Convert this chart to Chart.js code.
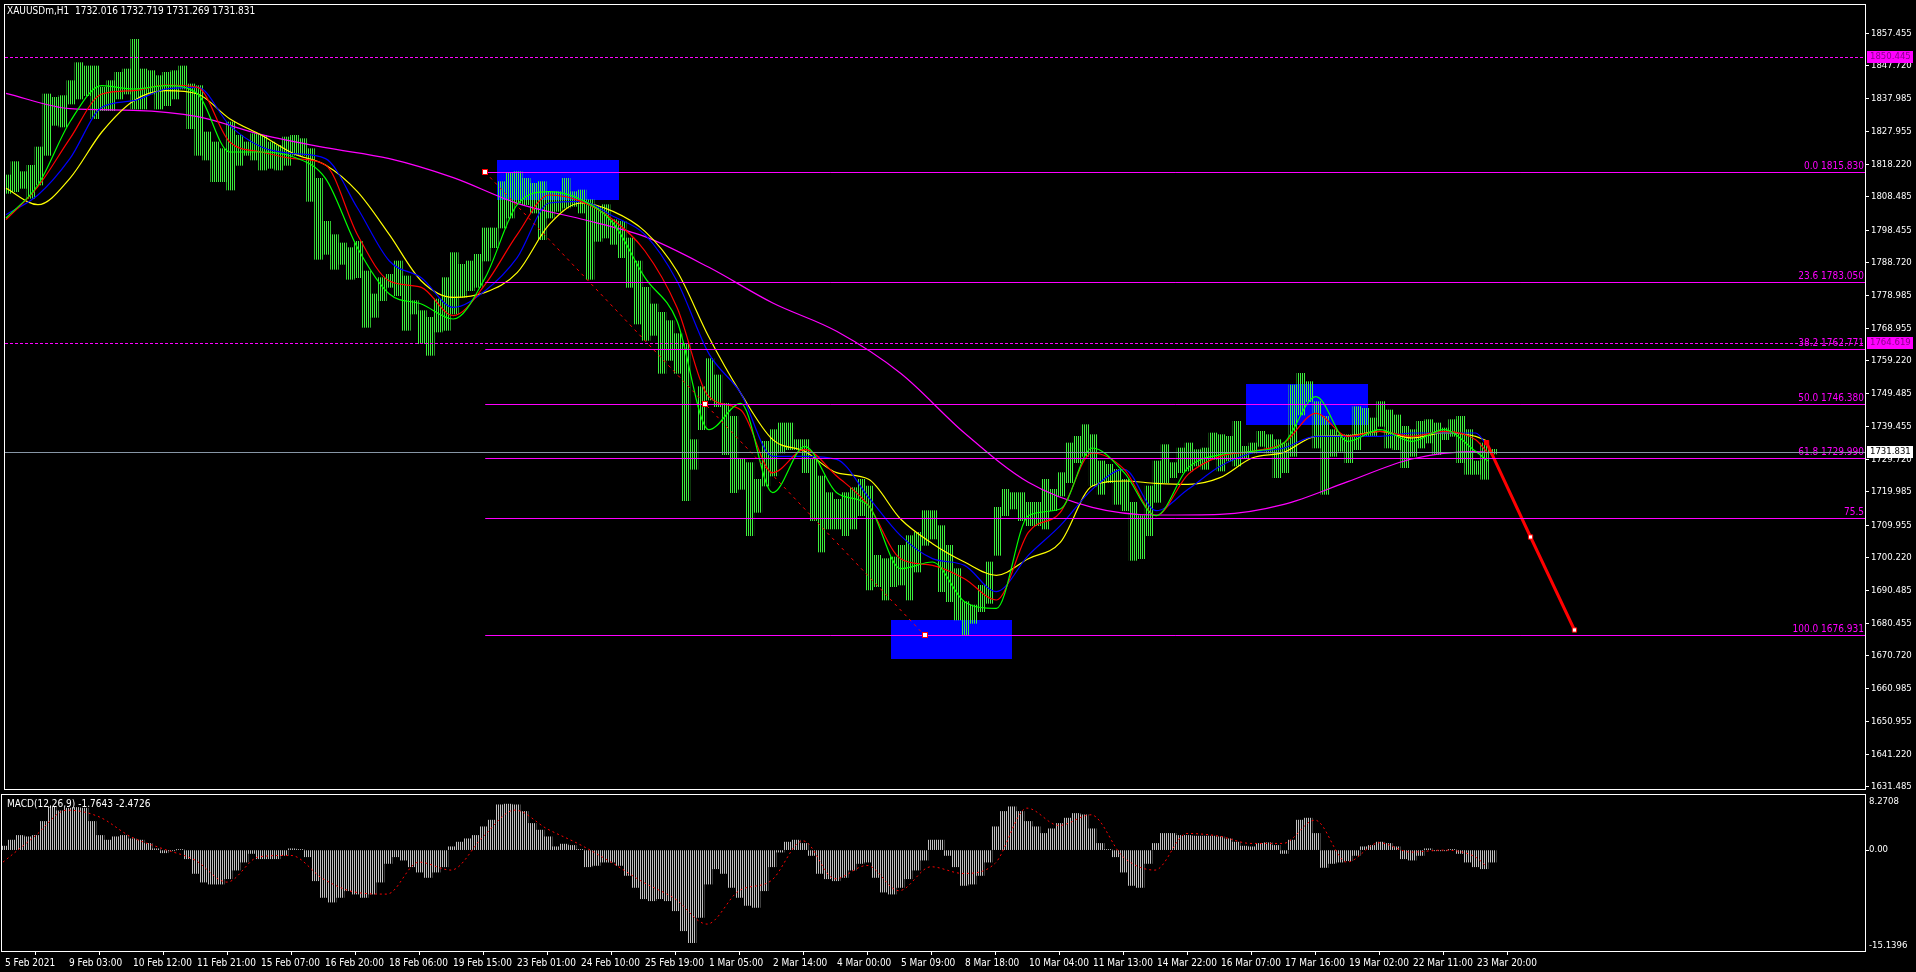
<!DOCTYPE html>
<html>
<head>
<meta charset="utf-8">
<title>XAUUSDm,H1</title>
<script src="https://cdn.jsdelivr.net/npm/chart.js@4.4.1/dist/chart.umd.min.js"></script>
<style>
    html, body { margin: 0; padding: 0; background: #000; overflow: hidden; }
    #wrap { position: relative; width: 1916px; height: 972px; }
    #priceBox { position: absolute; left: 0; top: 0; width: 1916px; height: 794px; }
    #macdBox { position: absolute; left: 0; top: 794px; width: 1916px; height: 178px; }
</style>
</head>
<body>
<div id="wrap">
    <div id="priceBox"><canvas id="priceChart"></canvas></div>
    <div id="macdBox"><canvas id="macdChart"></canvas></div>
</div>
<script>
// ---- data ----
// H1 bars, summarised per block of 4 bars (high / low of each block)
const BARS_PER_GROUP = 4;
const groupHigh = [
    1815.0, 1819.0, 1816.0, 1817.9, 1823.4, 1839.3, 1838.3, 1838.8, 1843.3, 1848.7,
    1847.7, 1847.7, 1841.3, 1843.3, 1845.8, 1846.8, 1855.7, 1846.8, 1846.3, 1844.8,
    1845.8, 1846.3, 1847.7, 1842.3, 1841.8, 1827.9, 1824.9, 1822.9, 1830.9, 1826.9,
    1824.9, 1827.4, 1826.9, 1824.9, 1823.9, 1826.4, 1826.9, 1825.9, 1822.9, 1814.0,
    1801.1, 1797.1, 1794.6, 1793.2, 1795.1, 1786.2, 1779.3, 1784.2, 1785.2, 1789.2,
    1784.7, 1777.3, 1774.3, 1772.3, 1777.8, 1784.2, 1791.7, 1788.2, 1789.2, 1791.2,
    1799.1, 1799.1, 1813.0, 1815.5, 1816.0, 1814.0, 1812.5, 1813.0, 1810.0, 1810.0,
    1814.0, 1810.0, 1810.5, 1807.6, 1805.6, 1806.1, 1801.6, 1801.1, 1796.1, 1789.2,
    1781.3, 1776.3, 1773.8, 1771.3, 1767.4, 1764.4, 1735.6, 1751.5, 1759.9, 1755.0,
    1746.5, 1742.6, 1729.7, 1728.7, 1723.7, 1735.1, 1738.6, 1740.6, 1740.6, 1735.6,
    1735.6, 1729.7, 1724.7, 1719.7, 1717.7, 1719.7, 1721.2, 1723.7, 1721.7, 1700.9,
    1699.9, 1700.4, 1703.9, 1706.8, 1707.8, 1714.3, 1714.3, 1709.8, 1703.9, 1696.9,
    1687.0, 1686.0, 1691.9, 1698.9, 1715.3, 1720.7, 1719.7, 1719.7, 1716.8, 1716.8,
    1723.7, 1720.7, 1725.7, 1734.6, 1736.6, 1740.1, 1737.1, 1729.2, 1728.2, 1726.7,
    1723.7, 1716.8, 1712.8, 1721.7, 1729.2, 1734.1, 1728.7, 1733.1, 1734.6, 1732.6,
    1733.1, 1737.6, 1737.1, 1736.6, 1741.1, 1733.6, 1734.6, 1738.1, 1737.1, 1735.6,
    1734.6, 1752.0, 1755.5, 1753.0, 1747.0, 1742.6, 1738.6, 1737.1, 1737.1, 1745.5,
    1745.0, 1742.1, 1747.0, 1744.5, 1743.0, 1739.6, 1738.6, 1741.1, 1741.6, 1740.6,
    1739.1, 1741.6, 1742.6, 1738.6, 1729.2, 1734.6, 1732.7
];
const groupLow = [
    1809.5, 1810.0, 1811.0, 1808.0, 1812.0, 1820.9, 1829.9, 1829.4, 1836.3, 1837.8,
    1838.8, 1831.9, 1834.3, 1834.3, 1837.8, 1839.3, 1834.8, 1834.8, 1839.3, 1834.8,
    1835.8, 1837.8, 1840.8, 1828.9, 1820.9, 1819.5, 1813.0, 1813.0, 1810.5, 1817.9,
    1820.9, 1819.5, 1816.5, 1817.0, 1816.5, 1817.9, 1820.9, 1820.9, 1807.1, 1789.7,
    1791.2, 1786.7, 1788.2, 1783.7, 1784.2, 1769.3, 1772.3, 1777.3, 1781.3, 1778.8,
    1768.4, 1773.3, 1764.4, 1760.9, 1767.9, 1768.4, 1773.3, 1778.3, 1780.3, 1781.3,
    1789.2, 1793.2, 1799.1, 1802.1, 1806.6, 1806.1, 1803.6, 1795.6, 1802.1, 1804.1,
    1805.1, 1805.6, 1803.6, 1783.7, 1795.1, 1796.1, 1794.2, 1790.2, 1781.3, 1770.3,
    1765.4, 1766.9, 1755.5, 1759.4, 1755.5, 1717.3, 1726.7, 1738.6, 1747.5, 1745.5,
    1731.1, 1719.7, 1720.7, 1706.8, 1713.8, 1721.7, 1724.7, 1731.6, 1732.6, 1732.6,
    1725.7, 1711.3, 1701.9, 1708.8, 1708.8, 1706.8, 1708.8, 1712.8, 1690.5, 1691.5,
    1687.5, 1691.5, 1692.0, 1687.5, 1695.9, 1703.9, 1705.8, 1690.0, 1687.0, 1681.5,
    1677.1, 1680.5, 1684.0, 1686.5, 1700.9, 1712.8, 1714.8, 1711.3, 1709.8, 1709.8,
    1708.8, 1714.3, 1718.7, 1722.7, 1728.7, 1730.6, 1721.7, 1719.2, 1722.7, 1716.2,
    1714.3, 1699.4, 1699.9, 1706.8, 1716.8, 1722.7, 1724.2, 1725.7, 1726.2, 1727.7,
    1726.7, 1729.7, 1726.2, 1729.2, 1727.7, 1730.1, 1731.6, 1733.6, 1731.6, 1724.2,
    1725.7, 1730.6, 1743.0, 1747.0, 1733.1, 1719.2, 1730.6, 1732.1, 1728.7, 1732.6,
    1736.6, 1736.6, 1739.6, 1733.1, 1732.6, 1727.2, 1730.6, 1733.1, 1734.6, 1731.1,
    1735.6, 1736.6, 1728.7, 1725.2, 1725.2, 1723.7, 1731.3
];

// moving averages, one reading every 16 bars (last value = last bar)
const LAST_BAR = 742;
const MA_STEP = 16;
const maGreen = [
    1802.1, 1812.0, 1830.9, 1841.8, 1840.8, 1841.8, 1839.3, 1821.9, 1821.9, 1820.4, 1814.0, 1793.2,
    1779.3, 1776.3, 1771.8, 1784.2, 1806.1, 1810.0, 1807.6, 1800.6, 1784.2, 1771.3, 1738.6, 1746.5,
    1719.7, 1733.6, 1719.7, 1715.8, 1696.9, 1698.9, 1687.0, 1685.0, 1712.8, 1714.8, 1733.1, 1725.7,
    1712.8, 1727.2, 1731.1, 1732.1, 1734.6, 1748.5, 1735.1, 1738.6, 1735.1, 1738.6, 1732.1, 1729.2
];
const maRed = [
    1801.6, 1811.5, 1825.9, 1839.3, 1840.3, 1842.0, 1841.3, 1824.9, 1821.9, 1819.9, 1818.0, 1797.1,
    1783.2, 1781.3, 1772.8, 1782.2, 1797.1, 1809.0, 1807.1, 1801.6, 1792.2, 1775.3, 1748.5, 1744.5,
    1725.7, 1732.6, 1724.7, 1715.8, 1699.9, 1697.9, 1693.9, 1687.5, 1707.8, 1713.8, 1731.6, 1726.7,
    1712.8, 1725.2, 1730.6, 1732.1, 1734.6, 1743.5, 1736.6, 1738.1, 1736.6, 1738.1, 1735.6, 1731.6
];
const maBlue = [
    1803.1, 1809.0, 1819.9, 1835.3, 1837.3, 1840.8, 1841.3, 1829.9, 1823.4, 1821.4, 1819.9, 1805.1,
    1789.2, 1784.2, 1775.3, 1780.3, 1790.2, 1806.6, 1807.1, 1802.6, 1797.1, 1783.2, 1761.4, 1749.5,
    1730.6, 1730.6, 1729.7, 1718.3, 1706.8, 1699.9, 1697.9, 1690.0, 1700.9, 1709.8, 1720.7, 1726.7,
    1714.3, 1720.7, 1727.6, 1731.6, 1733.1, 1736.6, 1736.6, 1736.6, 1737.6, 1737.6, 1737.6, 1733.6
];
const maYellow = [
    1811.0, 1806.1, 1814.0, 1827.9, 1837.3, 1840.3, 1839.3, 1831.9, 1826.9, 1821.4, 1818.0, 1810.0,
    1797.1, 1783.2, 1778.3, 1779.8, 1785.7, 1800.1, 1806.6, 1804.1, 1798.1, 1786.2, 1766.4, 1749.5,
    1735.6, 1732.1, 1725.7, 1723.7, 1711.8, 1704.4, 1698.9, 1694.9, 1699.9, 1704.8, 1721.7, 1723.2,
    1722.5, 1722.2, 1724.2, 1730.1, 1731.8, 1736.6, 1736.8, 1738.1, 1736.1, 1737.6, 1736.6, 1735.1
];
// slow MA, one reading every 32 bars
const SLOW_MA_STEP = 32;
const maMagenta = [
    1839.5, 1834.9, 1834.4, 1832.5, 1827.1, 1823.2, 1819.9, 1814.2, 1806.5, 1801.8, 1796.5, 1787.3,
    1776.6, 1768.1, 1755.5, 1737.6, 1722.8, 1715.3, 1713.0, 1713.2, 1716.2, 1723.0, 1729.8, 1732.0, 1731.8
];

// MACD(12,26,9): histogram per block of 4 bars, signal every 16 bars
const macdHist = [
    0.6, 1.5, 2.2, 2.0, 2.2, 4.3, 6.5, 5.9, 6.3, 6.4,
    6.3, 4.3, 2.2, 1.5, 2.0, 2.2, 1.7, 1.5, 1.0, 0.2,
    -0.4, -0.1, 0.1, -1.3, -3.5, -4.8, -5.1, -5.1, -4.3, -3.0,
    -1.8, -0.5, -1.3, -1.3, -1.3, -0.8, 0.2, 0.1, -1.0, -4.6,
    -7.1, -7.8, -7.1, -6.1, -6.6, -7.1, -6.6, -4.8, -2.0, -1.0,
    -1.5, -2.5, -3.3, -4.1, -3.3, -2.5, 0.5, 1.2, 1.7, 2.2,
    3.5, 4.5, 6.8, 6.9, 6.8, 5.8, 4.0, 3.0, 2.0, 0.5,
    0.9, 0.7, 0.1, -2.5, -2.3, -1.8, -1.8, -2.3, -3.8, -5.6,
    -7.3, -7.6, -7.3, -7.6, -9.1, -12.1, -13.9, -10.1, -5.1, -2.8,
    -3.5, -5.6, -7.1, -8.3, -8.6, -6.1, -2.5, -0.3, 1.2, 1.5,
    1.0, -0.8, -3.5, -4.3, -4.6, -4.1, -3.0, -2.0, -1.8, -4.1,
    -6.3, -6.6, -5.6, -4.3, -3.0, -1.5, 1.5, 1.5, -0.8, -2.5,
    -5.3, -5.1, -3.8, -1.8, 3.5, 5.8, 6.5, 5.8, 4.3, 3.5,
    2.5, 3.2, 4.0, 4.8, 5.5, 5.3, 3.2, 1.0, 0.1, -1.0,
    -3.3, -5.3, -5.6, -2.0, 1.0, 2.5, 2.5, 2.2, 2.2, 2.1,
    2.1, 2.1, 2.0, 1.7, 1.2, 0.6, 0.5, 1.0, 1.1, 0.7,
    -0.5, 1.5, 4.5, 4.8, 2.5, -2.6, -2.0, -1.8, -1.6, -0.8,
    0.5, 0.7, 1.2, 1.0, 0.5, -1.3, -1.5, -0.8, 0.2, -0.1,
    -0.1, 0.1, -0.5, -1.8, -2.5, -2.8, -1.8
];
const macdSignal = [
    -1.8, 2.1, 6.0, 5.0, 2.0, 0.2, -1.5, -4.8, -1.0, -0.8, -4.3, -6.3,
    -6.6, -1.8, -3.0, 2.0, 6.0, 3.2, 0.9, -1.8, -4.8, -7.3, -11.1, -6.1,
    -4.6, 1.4, -4.3, -2.3, -6.1, -2.5, -3.5, -2.0, 6.3, 3.7, 5.3, -1.0,
    -3.0, 2.5, 2.1, 1.0, 1.0, 4.5, -1.8, 1.1, -0.3, 0.0, -1.0, -2.5
];

// axes
const priceTicks = [
    1857.455, 1847.720, 1837.985, 1827.955, 1818.220, 1808.485, 1798.455, 1788.720,
    1778.985, 1768.955, 1759.220, 1749.485, 1739.455, 1729.720, 1719.985, 1709.955,
    1700.220, 1690.485, 1680.455, 1670.720, 1660.985, 1650.955, 1641.220, 1631.485
];
const PRICE_MIN = 1630.80;
const PRICE_MAX = 1866.00;
const TIME_LABEL_STEP = 32;
const timeLabels = [
    '5 Feb 2021', '9 Feb 03:00', '10 Feb 12:00', '11 Feb 21:00', '15 Feb 07:00', '16 Feb 20:00',
    '18 Feb 06:00', '19 Feb 15:00', '23 Feb 01:00', '24 Feb 10:00', '25 Feb 19:00', '1 Mar 05:00',
    '2 Mar 14:00', '4 Mar 00:00', '5 Mar 09:00', '8 Mar 18:00', '10 Mar 04:00', '11 Mar 13:00',
    '14 Mar 22:00', '16 Mar 07:00', '17 Mar 16:00', '19 Mar 02:00', '22 Mar 11:00', '23 Mar 20:00'
];
const BAR_MIN = -0.5;
const BAR_MAX = 931;
const macdMax = 8.2708;
const macdMin = -15.1396;

// chart objects
const fibLevels = ['0.0', '23.6', '38.2', '50.0', '61.8', '75.5', '100.0'];
const fibPrices = [1815.830, 1783.050, 1762.771, 1746.380, 1729.990, 1712.0, 1676.931];
const fibShowPrice = [true, true, true, true, true, false, true];
const fibAnchorBars = [240, 460];
const fibAnchorPrices = [1815.830, 1676.931];
const fibMidBar = 350;
const levelPrices = [1850.445, 1764.619];
const bidPrice = 1731.831;
const boxStartBar = [246, 443, 621];
const boxEndBar = [307, 504, 682];
const boxTopPrice = [1819.6, 1681.4, 1752.3];
const boxBottomPrice = [1807.4, 1669.8, 1740.1];
const arrowBars = [741.5, 763.5, 785.5];
const arrowPrices = [1734.7, 1706.4, 1678.5];

const titleText = 'XAUUSDm,H1  1732.016 1732.719 1731.269 1731.831';
const macdText = 'MACD(12,26,9) -1.7643 -2.4726';

// ---- helpers ----
const FONT_FAMILY = "'DejaVu Sans Condensed', 'Liberation Sans', sans-serif";
const FONT = '10px ' + FONT_FAMILY;
const AXIS_FONT_SIZE = 9.5;
Chart.defaults.font.family = FONT_FAMILY;
Chart.defaults.font.size = 10;
Chart.defaults.color = '#ffffff';

function stripes(color) {
    // 1px line every 2px, like the terminal's bar drawing
    const c = document.createElement('canvas');
    c.width = 2; c.height = 1;
    const g = c.getContext('2d');
    g.fillStyle = color;
    g.fillRect(0, 0, 1, 1);
    return g.createPattern(c, 'repeat');
}

const stepPoints = (values, step) => values.map((v, j) => ({ x: Math.min(j * step, LAST_BAR), y: v }));
const groupX = k => k * BARS_PER_GROUP + 0.5;

const fixedRightAxis = scale => {
    scale.width = 51;
    scale.paddingTop = 0;
    scale.paddingBottom = 0;
};

const blackBackground = {
    id: 'blackBackground',
    beforeDraw(chart) {
        const ctx = chart.ctx;
        ctx.save();
        ctx.fillStyle = '#000';
        ctx.fillRect(0, 0, chart.width, chart.height);
        ctx.restore();
    }
};

function hLine(ctx, x0, x1, py) {
    const yy = Math.round(py) + 0.5;
    ctx.beginPath();
    ctx.moveTo(x0, yy);
    ctx.lineTo(x1, yy);
    ctx.stroke();
}

function marker(ctx, px, py) {
    ctx.fillStyle = '#ffffff';
    ctx.strokeStyle = '#ff0000';
    ctx.lineWidth = 1;
    ctx.fillRect(Math.round(px) - 2, Math.round(py) - 2, 4, 4);
    ctx.strokeRect(Math.round(px) - 2.5, Math.round(py) - 2.5, 5, 5);
}

const priceOverlay = {
    id: 'priceOverlay',
    beforeDatasetsDraw(chart) {
        const { ctx, scales: { x, y } } = chart;
        ctx.save();
        ctx.fillStyle = '#0000ff';
        boxStartBar.forEach((b, i) => {
            const x0 = Math.round(x.getPixelForValue(b));
            const x1 = Math.round(x.getPixelForValue(boxEndBar[i]));
            const y0 = Math.round(y.getPixelForValue(boxTopPrice[i]));
            const y1 = Math.round(y.getPixelForValue(boxBottomPrice[i]));
            ctx.fillRect(x0, y0, x1 - x0, y1 - y0);
        });
        ctx.restore();
    },
    afterDatasetsDraw(chart) {
        const { ctx, chartArea: a, scales: { x, y } } = chart;
        ctx.save();
        ctx.beginPath();
        ctx.rect(a.left, a.top, a.width, a.height);
        ctx.clip();
        ctx.lineWidth = 1;

        // fibonacci retracement
        const fx = x.getPixelForValue(fibAnchorBars[0]);
        ctx.strokeStyle = '#ff00ff';
        ctx.fillStyle = '#ff00ff';
        ctx.font = FONT;
        ctx.textAlign = 'right';
        ctx.textBaseline = 'bottom';
        fibLevels.forEach((lvl, i) => {
            const py = y.getPixelForValue(fibPrices[i]);
            hLine(ctx, fx, a.right, py);
            const label = fibShowPrice[i] ? lvl + ' ' + fibPrices[i].toFixed(3) : lvl;
            ctx.fillText(label, a.right - 1, Math.round(py) - 1);
        });

        // horizontal dashed levels
        ctx.setLineDash([3, 2]);
        levelPrices.forEach(p => hLine(ctx, a.left, a.right, y.getPixelForValue(p)));
        ctx.setLineDash([]);

        // bid line
        ctx.strokeStyle = '#8796a6';
        hLine(ctx, a.left, a.right, y.getPixelForValue(bidPrice));

        // anchors of the retracement
        marker(ctx, x.getPixelForValue(fibAnchorBars[0]), y.getPixelForValue(fibAnchorPrices[0]));
        marker(ctx, x.getPixelForValue(fibMidBar), y.getPixelForValue(fibPrices[3]));
        marker(ctx, x.getPixelForValue(fibAnchorBars[1]), y.getPixelForValue(fibAnchorPrices[1]));
        ctx.restore();
    },
    afterDraw(chart) {
        const { ctx, chartArea: a, scales: { y } } = chart;
        ctx.save();
        // frame
        ctx.strokeStyle = '#ffffff';
        ctx.lineWidth = 1;
        ctx.strokeRect(a.left - 0.5, a.top - 0.5, a.right - a.left + 1, a.bottom - a.top + 1);

        // title
        ctx.font = FONT;
        ctx.fillStyle = '#ffffff';
        ctx.textAlign = 'left';
        ctx.textBaseline = 'middle';
        ctx.fillText(titleText, 7, 11);

        // price tags on the axis
        ctx.font = AXIS_FONT_SIZE + 'px ' + FONT_FAMILY;
        const tagFill = ['#ff00ff', '#ff00ff', '#ffffff'];
        const tagText = ['#8a008a', '#8a008a', '#000000'];
        [levelPrices[0], levelPrices[1], bidPrice].forEach((p, i) => {
            const py = Math.round(y.getPixelForValue(p));
            ctx.fillStyle = tagFill[i];
            ctx.fillRect(a.right + 2, py - 6, 46, 12);
            ctx.fillStyle = tagText[i];
            ctx.fillText(p.toFixed(3), a.right + 5, py);
        });
        ctx.restore();
    }
};

const macdOverlay = {
    id: 'macdOverlay',
    afterDraw(chart) {
        const { ctx, chartArea: a, scales: { y } } = chart;
        ctx.save();
        ctx.strokeStyle = '#ffffff';
        ctx.lineWidth = 1;
        ctx.strokeRect(a.left - 0.5, a.top - 0.5, a.right - a.left + 1, a.bottom - a.top + 1);

        ctx.font = FONT;
        ctx.fillStyle = '#ffffff';
        ctx.textAlign = 'left';
        ctx.textBaseline = 'middle';
        ctx.fillText(macdText, 7, 10);

        const lx = a.right + 4;
        ctx.font = AXIS_FONT_SIZE + 'px ' + FONT_FAMILY;
        ctx.textBaseline = 'top';
        ctx.fillText(macdMax.toFixed(4), lx, a.top + 2);
        ctx.textBaseline = 'middle';
        ctx.fillText('0.00', lx, Math.round(y.getPixelForValue(0)));
        ctx.textBaseline = 'bottom';
        ctx.fillText(macdMin.toFixed(4), lx, a.bottom - 1);
        ctx.restore();
    }
};

// ---- price chart ----
const priceBars = groupLow.map((lo, k) => ({ x: groupX(k), y: [lo, groupHigh[k]] }));
const maLine = (label, values, step, color, order) => ({
    type: 'line',
    label: label,
    data: stepPoints(values, step),
    borderColor: color,
    borderWidth: 1.2,
    pointRadius: 0,
    cubicInterpolationMode: 'monotone',
    order: order
});

new Chart(document.getElementById('priceChart'), {
    type: 'bar',
    data: {
        datasets: [
            {
                label: 'XAUUSDm',
                data: priceBars,
                backgroundColor: stripes('#3cf03c'),
                borderWidth: 0,
                barThickness: 8,
                order: 10
            },
            maLine('MA 200', maMagenta, SLOW_MA_STEP, '#ff00ff', 6),
            maLine('MA yellow', maYellow, MA_STEP, '#ffff00', 5),
            maLine('MA blue', maBlue, MA_STEP, '#0000ff', 4),
            maLine('MA red', maRed, MA_STEP, '#ff0000', 3),
            maLine('MA green', maGreen, MA_STEP, '#00ff00', 2),
            {
                type: 'line',
                label: 'Fibo trend',
                data: fibAnchorBars.map((b, i) => ({ x: b, y: fibAnchorPrices[i] })),
                borderColor: '#ff0000',
                borderWidth: 1,
                borderDash: [3, 4],
                pointRadius: 0,
                order: 1
            },
            {
                type: 'line',
                label: 'Arrow',
                data: arrowBars.map((b, i) => ({ x: b, y: arrowPrices[i] })),
                borderColor: '#ff0000',
                borderWidth: 3,
                pointStyle: 'rect',
                pointRadius: 3,
                pointBorderWidth: 1,
                pointBorderColor: '#ff0000',
                pointBackgroundColor: ['#ff0000', '#ffffff', '#ffffff'],
                order: 0
            }
        ]
    },
    options: {
        responsive: true,
        maintainAspectRatio: false,
        animation: false,
        events: [],
        layout: { padding: { top: 2, bottom: 2, left: 2, right: 0 } },
        plugins: { legend: { display: false }, tooltip: { enabled: false } },
        scales: {
            x: {
                type: 'linear',
                min: BAR_MIN,
                max: BAR_MAX,
                offset: false,
                display: false
            },
            y: {
                type: 'linear',
                position: 'right',
                min: PRICE_MIN,
                max: PRICE_MAX,
                border: { display: false },
                grid: { drawOnChartArea: false, drawTicks: true, tickLength: 4, color: '#ffffff' },
                ticks: {
                    padding: 2,
                    color: '#ffffff',
                    font: { size: AXIS_FONT_SIZE },
                    callback: v => Number(v).toFixed(3)
                },
                afterBuildTicks: scale => { scale.ticks = priceTicks.map(v => ({ value: v })); },
                afterFit: fixedRightAxis
            }
        }
    },
    plugins: [blackBackground, priceOverlay]
});

// ---- MACD chart ----
new Chart(document.getElementById('macdChart'), {
    type: 'bar',
    data: {
        datasets: [
            {
                type: 'line',
                label: 'Signal',
                data: stepPoints(macdSignal, MA_STEP),
                borderColor: '#ff0000',
                borderWidth: 1,
                borderDash: [2, 3],
                pointRadius: 0,
                cubicInterpolationMode: 'monotone',
                order: 0
            },
            {
                label: 'MACD',
                data: macdHist.map((v, k) => ({ x: groupX(k), y: v })),
                backgroundColor: stripes('#c0c0c0'),
                borderWidth: 0,
                barThickness: 8,
                order: 1
            }
        ]
    },
    options: {
        responsive: true,
        maintainAspectRatio: false,
        animation: false,
        events: [],
        layout: { padding: { top: 1, bottom: 0, left: 2, right: 0 } },
        plugins: { legend: { display: false }, tooltip: { enabled: false } },
        scales: {
            x: {
                type: 'linear',
                position: 'bottom',
                min: BAR_MIN,
                max: BAR_MAX,
                offset: false,
                border: { display: false },
                grid: { drawOnChartArea: false, drawTicks: true, tickLength: 4, color: '#ffffff' },
                ticks: {
                    autoSkip: false,
                    maxRotation: 0,
                    minRotation: 0,
                    align: 'start',
                    labelOffset: 2,
                    padding: 2,
                    color: '#ffffff',
                    font: { size: 10 },
                    callback: (v, i) => timeLabels[i]
                },
                afterBuildTicks: scale => {
                    scale.ticks = timeLabels.map((t, i) => ({ value: i * TIME_LABEL_STEP }));
                },
                afterFit: scale => {
                    scale.height = 21;
                    scale.paddingLeft = 0;
                    scale.paddingRight = 0;
                }
            },
            y: {
                type: 'linear',
                position: 'right',
                min: macdMin,
                max: macdMax,
                border: { display: false },
                grid: { drawOnChartArea: false, drawTicks: true, tickLength: 4, color: '#ffffff' },
                ticks: { display: false },
                afterBuildTicks: scale => { scale.ticks = [{ value: 0 }]; },
                afterFit: fixedRightAxis
            }
        }
    },
    plugins: [blackBackground, macdOverlay]
});
</script>
</body>
</html>
